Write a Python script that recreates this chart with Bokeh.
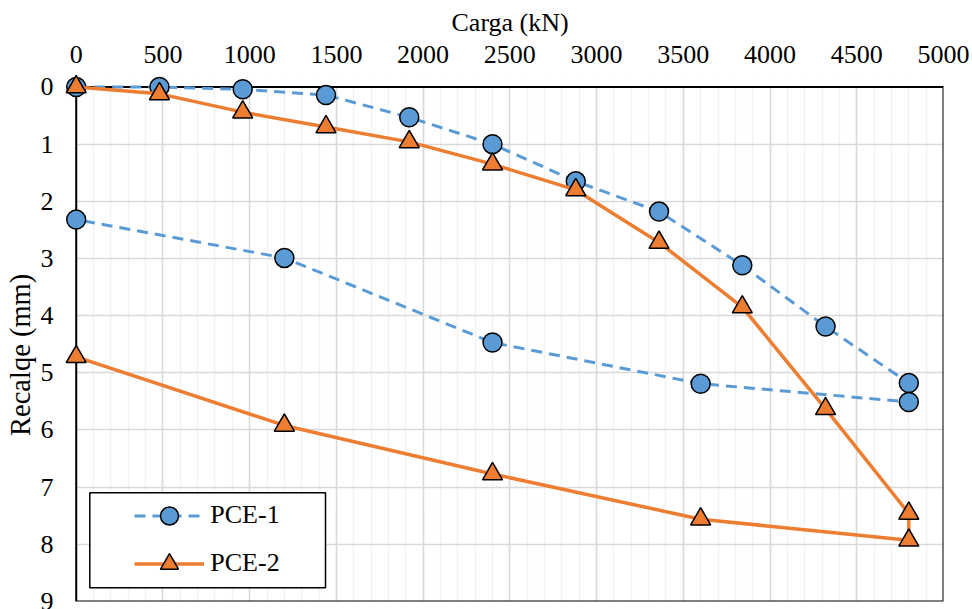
from bokeh.plotting import figure
from bokeh.models import (Range1d, SingleIntervalTicker, Legend, LegendItem,
                          BoxAnnotation, Title)
from bokeh.embed import file_html
from bokeh.resources import INLINE

# ---- data ----
carga_pce1 = [0, 480, 960, 1440, 1920, 2400, 2880, 3360, 3840, 4320, 4800,
              4800, 3600, 2400, 1200, 0]
recalque_pce1 = [0.0, 0.0, 0.04, 0.14, 0.53, 1.0, 1.65, 2.18, 3.12, 4.19, 5.18,
                 5.51, 5.19, 4.47, 2.99, 2.32]
carga_pce2 = [0, 480, 960, 1440, 1920, 2400, 2880, 3360, 3840, 4320, 4800,
              4800, 3600, 2400, 1200, 0]
recalque_pce2 = [0.0, 0.12, 0.44, 0.70, 0.96, 1.35, 1.80, 2.72, 3.85, 5.63, 7.46,
                 7.93, 7.56, 6.77, 5.92, 4.72]
series_names = ["PCE-1", "PCE-2"]
x_title = "Carga (kN)"
y_title = "Recalqe (mm)"
x_min, x_max, x_step = 0, 5000, 500
y_min, y_max, y_step = 0, 9, 1

FONT = "Liberation Serif"
BLUE = "#5B9BD5"
ORANGE = "#ED7D31"

# small extra room left/top so edge markers are not clipped
x_pad = 79
y_pad = 0.2536

p = figure(width=972, height=609,
           x_range=Range1d(x_min - x_pad, x_max),
           y_range=Range1d(y_max, y_min - y_pad),
           x_axis_location="above",
           output_backend="svg", toolbar_location=None,
           min_border_left=62, min_border_right=29,
           min_border_top=72, min_border_bottom=8)
p.background_fill_color = "white"
p.border_fill_color = "white"
p.outline_line_color = None

xt = SingleIntervalTicker(interval=x_step, num_minor_ticks=5)
yt = SingleIntervalTicker(interval=y_step, num_minor_ticks=0)
p.xaxis.ticker = xt
p.xgrid.ticker = xt
p.yaxis.ticker = yt
p.ygrid.ticker = yt

p.xgrid.grid_line_color = "#D9D9D9"
p.xgrid.grid_line_width = 1.5
p.xgrid.minor_grid_line_color = "#F2F2F2"
p.xgrid.minor_grid_line_width = 1.5
p.ygrid.grid_line_color = "#D9D9D9"
p.ygrid.grid_line_width = 1.5

for ax in (p.xaxis[0], p.yaxis[0]):
    ax.axis_line_color = None
    ax.major_tick_out = 0
    ax.major_tick_in = 0
    ax.minor_tick_out = 0
    ax.minor_tick_in = 0
    ax.major_label_text_font = FONT
    ax.major_label_text_font_size = "26px"
    ax.major_label_text_color = "black"

p.xaxis.major_label_standoff = 10
p.yaxis.major_label_standoff = 9

# axis titles (as side-panel titles so they can be offset like the original)
p.add_layout(Title(text=x_title, align="left", offset=389,
                   vertical_align="bottom", standoff=11,
                   text_font=FONT, text_font_size="26px",
                   text_font_style="normal", text_color="black"), "above")
p.add_layout(Title(text=y_title, align="left", offset=165.5,
                   vertical_align="bottom", standoff=3,
                   text_font=FONT, text_font_size="28.5px",
                   text_font_style="normal", text_color="black"), "left")

# white masks over the padding strips (hide grid there)
p.add_layout(BoxAnnotation(right=x_min, fill_color="white", fill_alpha=1,
                           line_alpha=0, level="underlay"))
p.add_layout(BoxAnnotation(bottom=y_min, fill_color="white", fill_alpha=1,
                           line_alpha=0, level="underlay"))
# plot-area border / axis lines
p.add_layout(BoxAnnotation(left=x_min, right=x_max, top=y_min, bottom=y_max,
                           fill_alpha=0, line_color="black", line_width=2,
                           line_alpha=1, level="underlay"))

l1 = p.line(carga_pce1, recalque_pce1, line_color=BLUE, line_width=3,
            line_dash="11 7", line_join="round")
s1 = p.scatter(carga_pce1, recalque_pce1, marker="circle", size=19,
               fill_color=BLUE, line_color="black", line_width=1.5)
l2 = p.line(carga_pce2, recalque_pce2, line_color=ORANGE, line_width=3.5,
            line_join="round")
s2 = p.scatter(carga_pce2, recalque_pce2, marker="triangle", size=20,
               fill_color=ORANGE, line_color="black", line_width=1.5)

# legend frame
p.add_layout(BoxAnnotation(left=27.3, right=263, bottom=13.7, top=108.7,
                           left_units="screen", right_units="screen",
                           bottom_units="screen", top_units="screen",
                           fill_color="white", fill_alpha=1.0,
                           line_color="black", line_width=1.5, line_alpha=1.0))

legend = Legend(items=[LegendItem(label=series_names[0], renderers=[l1, s1]),
                       LegendItem(label=series_names[1], renderers=[l2, s2])],
                location=(72.3, 15.5), padding=0, margin=0, spacing=3,
                glyph_width=70, glyph_height=45, label_height=45,
                label_standoff=6,
                label_text_font=FONT, label_text_font_size="26px",
                label_text_color="black",
                border_line_alpha=0, background_fill_alpha=0)
p.add_layout(legend)

open("out.html", "w").write(file_html(p, INLINE))
